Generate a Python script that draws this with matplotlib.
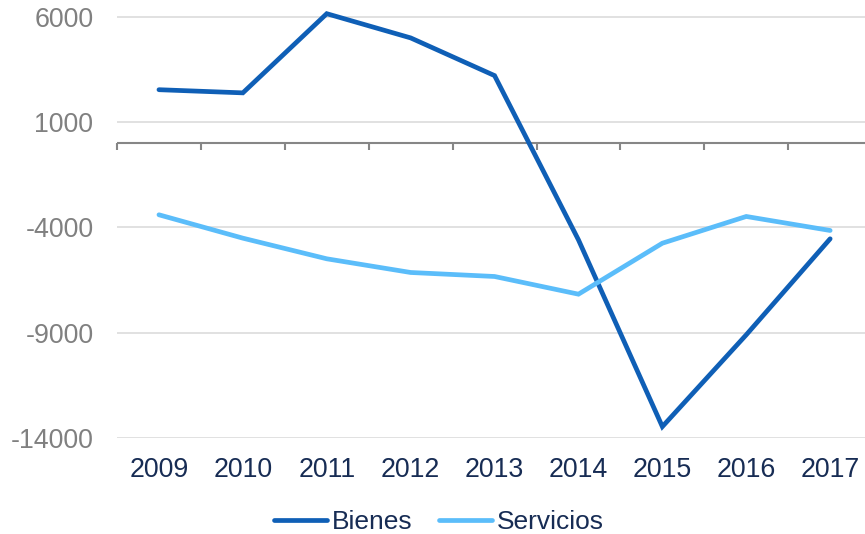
import matplotlib
matplotlib.use("Agg")
import matplotlib.pyplot as plt

years = ["2009", "2010", "2011", "2012", "2013", "2014", "2015", "2016", "2017"]
bienes = [2540, 2390, 6150, 5000, 3210, -4590, -13460, -9100, -4540]
servicios = [-3400, -4510, -5490, -6140, -6330, -7170, -4750, -3480, -4145]
yticks = [6000, 1000, -4000, -9000, -14000]

plt.rcParams['font.family'] = ['Liberation Sans', 'DejaVu Sans']

W, H = 865, 534
fig = plt.figure(figsize=(W / 100, H / 100), dpi=100)
left = 117 / W
bottom = (H - 438) / H
ax = fig.add_axes([left, bottom, 1 - left, 1 - bottom])

x = list(range(len(years)))
c_b = '#0F5FB6'
c_s = '#5BBDFA'
grey = '#868686'

# zero axis line with category boundary ticks (pointing down)
bounds = [i - 0.5 for i in range(len(years) + 1)]
ax.axhline(0, color=grey, lw=1.5, zorder=1.5)
ax.plot(bounds, [0] * len(bounds), linestyle='none', marker=3, markersize=5.3,
        markeredgewidth=1.5, color=grey, zorder=1.5, clip_on=False)

lb, = ax.plot(x, bienes, color=c_b, lw=3.4, solid_capstyle='round', solid_joinstyle='miter', clip_on=False, zorder=3)
ls, = ax.plot(x, servicios, color=c_s, lw=3.4, solid_capstyle='round', solid_joinstyle='miter', clip_on=False, zorder=3)

ymin, ymax = -14000, 6800
ax.set_ylim(ymin, ymax)
ax.set_xlim(-0.5, -0.5 + (W - 117) / 83.9)

ax.set_yticks(yticks)
ax.set_yticklabels([str(v) for v in yticks])
ax.grid(axis='y', color='#D9D9D9', lw=1.1)
ax.set_axisbelow(True)
for s in ax.spines.values():
    s.set_visible(False)

ax.set_xticks(x)
ax.set_xticklabels(years)
ax.tick_params(axis='x', length=0, pad=14, labelsize=19.3, labelcolor='#172C54')
ax.tick_params(axis='y', length=0, pad=17, labelsize=19.3, labelcolor='#808080')

fig.legend(handles=[lb, ls], labels=['Bienes', 'Servicios'], loc='center',
           bbox_to_anchor=(439 / W, 1 - 522 / H), ncol=2, frameon=False,
           fontsize=19, handlelength=2.0, handletextpad=0.2, columnspacing=1.0,
           labelcolor='#172C54', borderaxespad=0, borderpad=0)

fig.savefig('out.png', dpi=100)
